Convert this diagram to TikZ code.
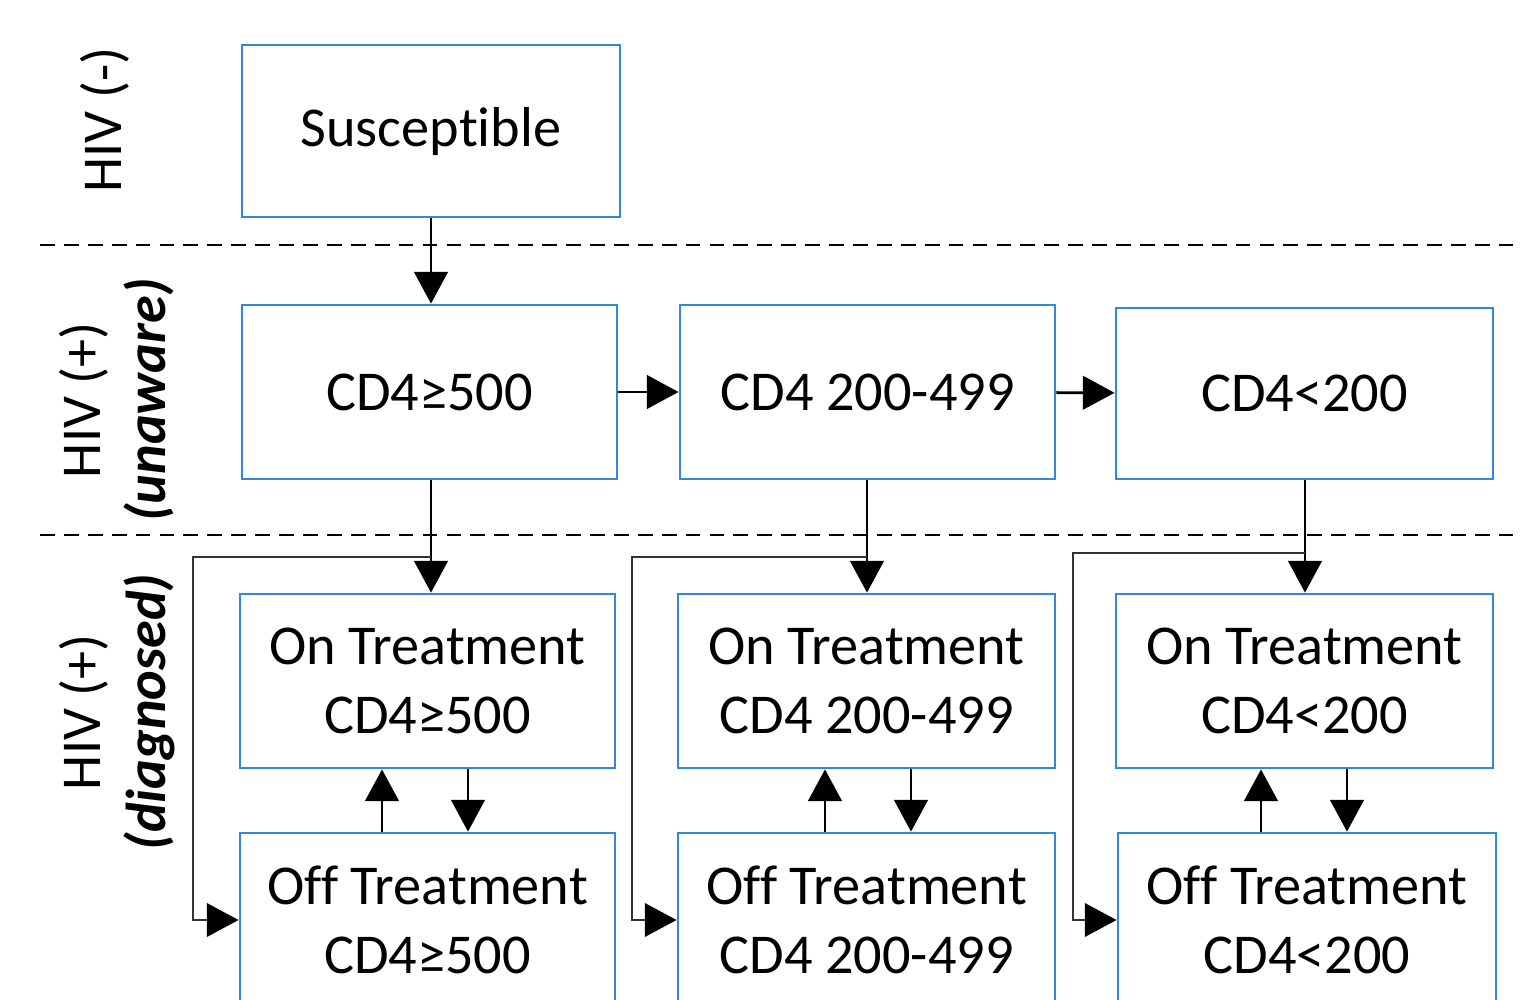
\documentclass[tikz,border=0pt]{standalone}
\usepackage{fontspec}
\setmainfont{Carlito}[Ligatures=CommonOff]
\usepackage{tikz}
\usetikzlibrary{arrows.meta}
\usetikzlibrary{positioning}
\definecolor{boxblue}{RGB}{48,136,214}

\begin{document}
\begin{tikzpicture}[x=0.01cm, y=-0.01cm,
        state/.style={draw=boxblue, line width=0.75pt, minimum width=3.75cm, minimum height=1.74cm, inner sep=0pt, align=center, font=\fontsize{16}{19.4}\selectfont},
        zone/.style={rotate=90, align=center, font=\fontsize{16}{18.5}\selectfont},
        arr/.style={line width=0.8pt, -{Triangle[length=9pt,width=9.5pt]}},
        branch/.style={line width=0.6pt, draw=black!80, -{Triangle[length=9pt,width=9.5pt,color=black]}},
        sep/.style={line width=0.75pt, dash pattern=on 4.2pt off 2.6pt}]
        \useasboundingbox (0,0) rectangle (1520,1000);
        \draw[sep] (40,245) -- (1520,245);
        \draw[sep] (40,535) -- (1520,535);

        \node[zone] (neg) at (105,120) {HIV (-)};
        \node[zone] (unaware) at (117,400) {HIV (+)\\\textbf{\textit{(unaware)}}};
        \node[zone] (diag) at (117,712) {HIV (+)\\\textbf{\textit{(diagnosed)}}};

        \node[state, minimum width=3.78cm, minimum height=1.72cm] (sus) at (431,131) {Susceptible};
        \node[state] (a1) at (429.5,392) {CD4≥500};
        \node[state] (a2) at (867.5,392) {CD4 200-499};
        \node[state, minimum width=3.77cm, minimum height=1.71cm] (a3) at (1304.5,393.5) {CD4<200};
        \node[state] (on1) at (427.5,681) {On Treatment\\CD4≥500};
        \node[state, minimum width=3.77cm] (on2) at (866.5,681) {On Treatment\\CD4 200-499};
        \node[state, minimum width=3.77cm] (on3) at (1304.5,681) {On Treatment\\CD4<200};
        \node[state] (off1) at (427.5,920) {Off Treatment\\CD4≥500};
        \node[state, minimum width=3.77cm] (off2) at (866.5,920) {Off Treatment\\CD4 200-499};
        \node[state, minimum width=3.78cm] (off3) at (1307,920) {Off Treatment\\CD4<200};

        \draw[arr] (sus.south -| 431,0) -- (a1.north -| 431,0);
        \draw[arr] (a1) -- (a2);
        \draw[arr] (a2) -- (a3);

        \draw[arr] (a1.south -| 431,0) -- (on1.north -| 431,0);
        \draw[arr] (a2.south -| 867,0) -- (on2.north -| 867,0);
        \draw[arr] (a3.south -| 1305,0) -- (on3.north -| 1305,0);

        \coordinate (b1) at (431,557);
        \coordinate (b2) at (867,557);
        \coordinate (b3) at (1305,553);
        \draw[branch] (b1) -- (193,557) |- (off1.west);
        \draw[branch] (b2) -- (632,557) |- (off2.west);
        \draw[branch] (b3) -- (1073,553) |- (off3.west);

        \draw[arr] (off1.north -| 382,0) -- (on1.south -| 382,0);
        \draw[arr] (on1.south -| 468,0) -- (off1.north -| 468,0);
        \draw[arr] (off2.north -| 825,0) -- (on2.south -| 825,0);
        \draw[arr] (on2.south -| 911,0) -- (off2.north -| 911,0);
        \draw[arr] (off3.north -| 1261,0) -- (on3.south -| 1261,0);
        \draw[arr] (on3.south -| 1347,0) -- (off3.north -| 1347,0);
\end{tikzpicture}
\end{document}
